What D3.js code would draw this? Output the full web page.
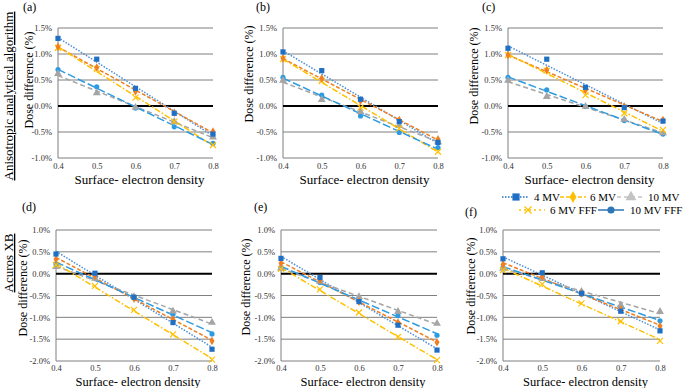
<!DOCTYPE html>
<html>
<head>
<meta charset="utf-8">
<script src="https://cdn.jsdelivr.net/npm/d3@7"></script>
<style>
  body { margin: 0; background: #fff; }
  svg, svg text { font-family: "Liberation Serif", "Times New Roman", serif; }
</style>
</head>
<body>
<svg id="canvas" width="685" height="388"></svg>
<script>
// Data (dose difference in %), one row per beam
var density = [0.4, 0.5, 0.6, 0.7, 0.8];
var beams = ["4 MV", "6 MV", "10 MV", "6 MV FFF", "10 MV FFF"];
var panelLabels = ["(a)", "(b)", "(c)", "(d)", "(e)", "(f)"];
var rowTitles = ["Anisotropic analytical algorithm", "Acuros XB"];
var topTicks = [-1.0, -0.5, 0.0, 0.5, 1.0, 1.5];
var bottomTicks = [-2.0, -1.5, -1.0, -0.5, 0.0, 0.5, 1.0];

var panelA = [
    [1.30, 0.90, 0.34, -0.14, -0.54],
    [1.14, 0.74, 0.28, -0.13, -0.49],
    [0.62, 0.25, -0.03, -0.30, -0.60],
    [1.12, 0.71, 0.16, -0.30, -0.75],
    [0.70, 0.37, -0.04, -0.40, -0.72]
];
var panelB = [
    [1.04, 0.68, 0.13, -0.30, -0.70],
    [0.92, 0.53, 0.10, -0.27, -0.64],
    [0.49, 0.12, -0.11, -0.38, -0.69],
    [0.90, 0.48, -0.03, -0.43, -0.88],
    [0.55, 0.21, -0.19, -0.51, -0.80]
];
var panelC = [
    [1.11, 0.90, 0.36, -0.03, -0.29],
    [0.98, 0.69, 0.31, -0.01, -0.27],
    [0.49, 0.18, -0.01, -0.26, -0.52],
    [0.98, 0.68, 0.21, -0.14, -0.46],
    [0.55, 0.31, -0.01, -0.28, -0.54]
];
var panelD = [
    [0.45, 0.01, -0.54, -1.12, -1.73],
    [0.33, -0.05, -0.57, -1.05, -1.54],
    [0.16, -0.11, -0.53, -0.86, -1.12],
    [0.20, -0.28, -0.83, -1.39, -1.97],
    [0.22, -0.09, -0.54, -0.93, -1.38]
];
var panelE = [
    [0.35, -0.09, -0.64, -1.18, -1.75],
    [0.24, -0.15, -0.64, -1.12, -1.57],
    [0.12, -0.18, -0.53, -0.87, -1.14],
    [0.11, -0.36, -0.89, -1.45, -1.98],
    [0.14, -0.20, -0.59, -0.96, -1.41]
];
var panelF = [
    [0.34, 0.02, -0.45, -0.86, -1.31],
    [0.21, -0.07, -0.45, -0.82, -1.20],
    [0.12, -0.11, -0.41, -0.72, -0.87],
    [0.08, -0.24, -0.68, -1.09, -1.54],
    [0.14, -0.11, -0.47, -0.76, -1.08]
];

// Styles
var serif = "Liberation Serif, Times New Roman, serif";
var lineColor = ["#4b8fd8", "#f07f22", "#a5a5a5", "#ffc000", "#2d9be2"];
var markColor = ["#1f6fc5", "#f07f22", "#a5a5a5", "#ffc000", "#2d9be2"];
var dashes = ["1.5,1.5", "4,2", "5,3", "6,2,1.5,2", "8,3"];
var shapes = ["square", "diamond", "triangle", "x", "circle"];
var legendColor = ["#1f6fc5", "#ffc000", "#c3c3c3", "#ffc000", "#2e75b6"];
var legendDash = ["1.5,1.5", "4,2", "4,3", "2,3", "none"];

var svg = d3.select("#canvas").attr("font-family", serif);

var layout = [
    {data: panelA, left: 58, right: 213, top: 28, bottom: 158, ticks: topTicks, lx: 23, ly: 11, tx: 33, ty: 80},
    {data: panelB, left: 283, right: 438, top: 28, bottom: 158, ticks: topTicks, lx: 256, ly: 11, tx: 253, ty: 74},
    {data: panelC, left: 508, right: 663, top: 28, bottom: 158, ticks: topTicks, lx: 482, ly: 11, tx: 478, ty: 76},
    {data: panelD, left: 56, right: 212, top: 230, bottom: 361, ticks: bottomTicks, lx: 22, ly: 211, tx: 27, ty: 288},
    {data: panelE, left: 281, right: 437, top: 230, bottom: 361, ticks: bottomTicks, lx: 254, ly: 211, tx: 250, ty: 287},
    {data: panelF, left: 503, right: 660, top: 230, bottom: 361, ticks: bottomTicks, lx: 465, ly: 216, tx: 475, ty: 286}
];

function marker(sel, shape, color, s) {
    if (shape == "x") {
        sel.append("path")
            .attr("d", "M" + (-s) + "," + (-s) + "L" + s + "," + s + "M" + (-s) + "," + s + "L" + s + "," + (-s))
            .attr("stroke", color)
            .attr("stroke-width", 1.2)
            .attr("fill", "none");
        return;
    }
    var type = {square: d3.symbolSquare, diamond: d3.symbolDiamond, triangle: d3.symbolTriangle, circle: d3.symbolCircle}[shape];
    var size = {square: 4 * s * s, diamond: 3.2 * s * s, triangle: 4 * s * s, circle: 3.1 * s * s}[shape];
    sel.append("path")
        .attr("d", d3.symbol().type(type).size(size)())
        .attr("fill", color);
}

// least squares trend line, like the spreadsheet trendline
function trend(ys) {
    var mx = d3.mean(density), my = d3.mean(ys);
    var sxy = d3.sum(density, function(d, i){ return (d - mx) * (ys[i] - my); });
    var sxx = d3.sum(density, function(d){ return (d - mx) * (d - mx); });
    var b = sxy / sxx;
    return [[density[0], my + b * (density[0] - mx)],
            [density[4], my + b * (density[4] - mx)]];
}

layout.forEach(function(p, pi) {
    var x = d3.scaleLinear().domain([0.4, 0.8]).range([p.left, p.right]);
    var y = d3.scaleLinear().domain(d3.extent(p.ticks)).range([p.bottom, p.top]);
    var g = svg.append("g");

    // grid
    g.selectAll(".grid")
        .data(p.ticks.filter(function(t){ return t != 0; }))
        .enter().append("line")
        .attr("x1", p.left).attr("x2", p.right)
        .attr("y1", function(d){ return y(d); }).attr("y2", function(d){ return y(d); })
        .attr("stroke", "#7f7f7f").attr("stroke-width", 1);
    g.append("line")
        .attr("x1", p.left).attr("x2", p.left)
        .attr("y1", p.top).attr("y2", p.bottom)
        .attr("stroke", "#7f7f7f");
    g.append("line")
        .attr("x1", p.left).attr("x2", p.right)
        .attr("y1", y(0)).attr("y2", y(0))
        .attr("stroke", "#000").attr("stroke-width", 2);

    // axes
    var yAxis = g.append("g")
        .attr("transform", "translate(" + p.left + ",0)")
        .call(d3.axisLeft(y).tickValues(p.ticks).tickSize(0).tickPadding(6)
            .tickFormat(function(d){ return d.toFixed(1) + "%"; }));
    var xAxis = g.append("g")
        .attr("transform", "translate(0," + p.bottom + ")")
        .call(d3.axisBottom(x).tickValues(density).tickSize(0).tickPadding(pi < 3 ? 5 : 4)
            .tickFormat(d3.format(".1f")));
    [xAxis, yAxis].forEach(function(a){
        a.attr("font-family", serif).attr("font-size", 8.5);
        a.select(".domain").remove();
        a.selectAll("text").attr("fill", "#333");
    });

    // trend lines
    p.data.forEach(function(ys, si) {
        var t = trend(ys);
        g.append("line")
            .attr("x1", x(t[0][0])).attr("y1", y(t[0][1]))
            .attr("x2", x(t[1][0])).attr("y2", y(t[1][1]))
            .attr("stroke", lineColor[si])
            .attr("stroke-width", 1.5)
            .attr("stroke-dasharray", dashes[si]);
    });
    // markers (light blue, gray, yellow drawn first so squares stay on top)
    [4, 2, 3, 1, 0].forEach(function(si) {
        p.data[si].forEach(function(v, i) {
            var m = g.append("g")
                .attr("transform", "translate(" + x(density[i]) + "," + y(v) + ")");
            marker(m, shapes[si], markColor[si], si == 3 ? 3 : 2.6);
        });
    });

    // texts
    svg.append("text")
        .attr("x", p.lx).attr("y", p.ly)
        .attr("font-size", 12)
        .text(panelLabels[pi]);
    svg.append("text")
        .attr("x", (p.left + p.right) / 2 + 4)
        .attr("y", pi < 3 ? 184 : 385.5)
        .attr("text-anchor", "middle")
        .attr("font-size", pi < 3 ? 13 : 12.5)
        .text("Surface- electron density");
    svg.append("text")
        .attr("transform", "translate(" + p.tx + "," + p.ty + ") rotate(-90)")
        .attr("text-anchor", "middle")
        .attr("font-size", 12)
        .text("Dose difference (%)");
});

// row titles
svg.append("text")
    .attr("transform", "translate(13,96) rotate(-90)")
    .attr("text-anchor", "middle")
    .attr("font-size", 13)
    .attr("text-decoration", "underline")
    .text(rowTitles[0]);
svg.append("text")
    .attr("transform", "translate(13,263) rotate(-90)")
    .attr("text-anchor", "middle")
    .attr("font-size", 13)
    .attr("text-decoration", "underline")
    .text(rowTitles[1]);

// legend
var legendPos = [
    {x1: 502, x2: 528, mx: 516, tx: 534, y: 197},
    {x1: 560, x2: 586, mx: 573, tx: 590, y: 197},
    {x1: 617, x2: 645, mx: 631, tx: 648, y: 197},
    {x1: 519, x2: 545, mx: 528, tx: 550, y: 210},
    {x1: 598, x2: 624, mx: 611, tx: 630, y: 210}
];
var legend = svg.append("g");
beams.forEach(function(b, i) {
    var lp = legendPos[i];
    legend.append("line")
        .attr("x1", lp.x1).attr("x2", lp.x2)
        .attr("y1", lp.y).attr("y2", lp.y)
        .attr("stroke", legendColor[i])
        .attr("stroke-width", 1.5)
        .attr("stroke-dasharray", legendDash[i]);
    var m = legend.append("g").attr("transform", "translate(" + lp.mx + "," + lp.y + ")");
    marker(m, shapes[i], legendColor[i], i == 3 ? 3.5 : 3.6);
    legend.append("text")
        .attr("x", lp.tx).attr("y", lp.y + 4)
        .attr("font-size", 11)
        .text(b);
});
</script>
</body>
</html>
